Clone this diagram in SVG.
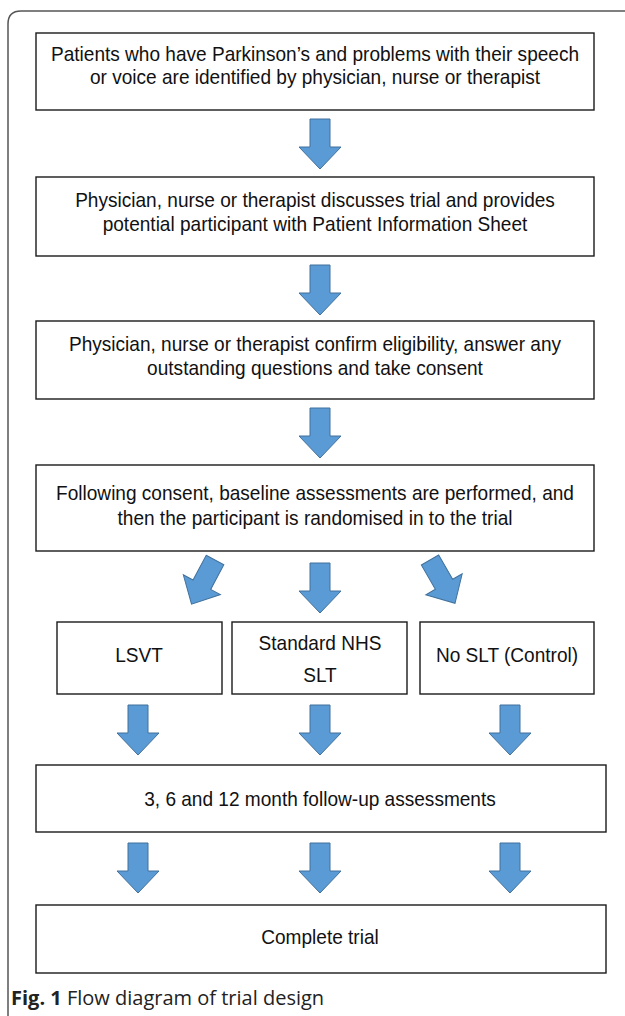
<svg xmlns="http://www.w3.org/2000/svg" xmlns:xlink="http://www.w3.org/1999/xlink" width="625" height="1016" viewBox="0 0 625 1016">
<style>
.box{fill:#fff;stroke:#1a1a1a;stroke-width:1.4}
.t{font-family:"Liberation Sans",Arial,sans-serif;font-size:20.5px;fill:#111;text-anchor:middle}
.arr{fill:#5B9BD5;stroke:#41719C;stroke-width:1}
.cap{font-family:"Open Sans","Noto Sans",sans-serif;font-size:20px;fill:#222}
</style>
<defs>
<path id="a" class="arr" d="M-10,0 H10 V28 H21 L0,50 L-21,28 H-10 Z"/>
</defs>
<rect width="625" height="1016" fill="#fff"/>
<path d="M8,1016 V24 Q8,11 21,11 H625" fill="none" stroke="#555" stroke-width="1.5"/>
<g id="n1"><rect class="box" x="36" y="33" width="558" height="77"/><g transform="translate(315,0) scale(0.93,1)"><text class="t" x="0" y="61">Patients who have Parkinson’s and problems with their speech</text><text class="t" x="0" y="84">or voice are identified by physician, nurse or therapist</text></g></g>
<g id="n2"><rect class="box" x="36" y="177" width="558" height="79"/><g transform="translate(315,0) scale(0.93,1)"><text class="t" x="0" y="207">Physician, nurse or therapist discusses trial and provides</text><text class="t" x="0" y="231">potential participant with Patient Information Sheet</text></g></g>
<g id="n3"><rect class="box" x="36" y="321" width="558" height="78"/><g transform="translate(315,0) scale(0.93,1)"><text class="t" x="0" y="351">Physician, nurse or therapist confirm eligibility, answer any</text><text class="t" x="0" y="375">outstanding questions and take consent</text></g></g>
<g id="n4"><rect class="box" x="36" y="465" width="558" height="86"/><g transform="translate(315,0) scale(0.93,1)"><text class="t" x="0" y="500">Following consent, baseline assessments are performed, and</text><text class="t" x="0" y="525">then the participant is randomised in to the trial</text></g></g>
<g id="n5"><rect class="box" x="57" y="622" width="165" height="72"/><g transform="translate(139,0) scale(0.93,1)"><text class="t" x="0" y="662">LSVT</text></g></g>
<g id="n6"><rect class="box" x="232" y="622" width="175" height="72"/><g transform="translate(320,0) scale(0.93,1)"><text class="t" x="0" y="650">Standard NHS</text><text class="t" x="0" y="682">SLT</text></g></g>
<g id="n7"><rect class="box" x="420" y="622" width="174" height="72"/><g transform="translate(507,0) scale(0.93,1)"><text class="t" x="0" y="662">No SLT (Control)</text></g></g>
<g id="n8"><rect class="box" x="36" y="765" width="570" height="67"/><g transform="translate(320,0) scale(0.93,1)"><text class="t" x="0" y="806">3, 6 and 12 month follow-up assessments</text></g></g>
<g id="n9"><rect class="box" x="36" y="905" width="570" height="68"/><g transform="translate(320,0) scale(0.93,1)"><text class="t" x="0" y="944">Complete trial</text></g></g>
<g id="connectors">
<use xlink:href="#a" href="#a" transform="translate(320,119)"/>
<use xlink:href="#a" href="#a" transform="translate(320,265)"/>
<use xlink:href="#a" href="#a" transform="translate(320,408)"/>
<use xlink:href="#a" href="#a" transform="translate(215,560) rotate(28)"/>
<use xlink:href="#a" href="#a" transform="translate(320,563)"/>
<use xlink:href="#a" href="#a" transform="translate(430,560) rotate(-30)"/>
<use xlink:href="#a" href="#a" transform="translate(138,705)"/>
<use xlink:href="#a" href="#a" transform="translate(320,705)"/>
<use xlink:href="#a" href="#a" transform="translate(510,705)"/>
<use xlink:href="#a" href="#a" transform="translate(138,843)"/>
<use xlink:href="#a" href="#a" transform="translate(320,843)"/>
<use xlink:href="#a" href="#a" transform="translate(510,843)"/>
</g>
<text class="cap" x="11" y="1005"><tspan font-weight="bold">Fig. 1</tspan> Flow diagram of trial design</text>
</svg>
